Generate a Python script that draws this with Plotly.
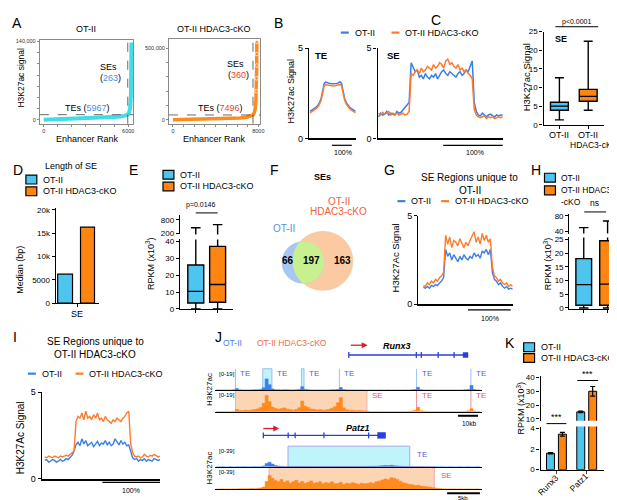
import numpy as np
import plotly.graph_objects as go

W, H = 617, 500
FONT = "Liberation Sans, Arial, Helvetica, sans-serif"

# ======================= DATA =======================
# A: ranked enhancer plots (ROSE)
a_ot2_rank = [0, 600, 1200, 1800, 2400, 3000, 3600, 4200, 4800, 5300, 5700, 5967, 6080, 6150, 6190, 6212, 6224, 6230]
a_ot2_signal = [300, 700, 1100, 1500, 1900, 2400, 2900, 3500, 4300, 5400, 7000, 9200, 14000, 24000, 42000, 70000, 105000, 138000]
a_ot2_cut = (5967, 9200)
a_ot2_counts = {"SE": 263, "TE": 5967}

a_ko_rank = [0, 800, 1600, 2400, 3200, 4000, 4800, 5600, 6300, 6900, 7300, 7496, 7620, 7710, 7770, 7810, 7835, 7848, 7853, 7856]
a_ko_signal = [1000, 2000, 3000, 4000, 5200, 6500, 8000, 10000, 13000, 18000, 25000, 34000, 50000, 80000, 130000, 200000, 290000, 380000, 460000, 545000]
a_ko_cut = (7496, 34000)
a_ko_counts = {"SE": 360, "TE": 7496}

# B: meta-profiles of H3K27ac signal
te_blue = [1.50, 1.55, 1.60, 1.66, 1.74, 1.84, 1.98, 2.20, 2.55, 3.05, 3.12, 3.08, 3.05, 3.04, 3.03,
           3.03, 3.04, 3.05, 3.08, 3.14, 3.05, 2.55, 2.20, 1.98, 1.84, 1.74, 1.66, 1.60, 1.55, 1.50]
te_orange = [1.42, 1.47, 1.52, 1.58, 1.66, 1.76, 1.90, 2.12, 2.46, 2.92, 2.97, 2.95, 2.93, 2.92, 2.91,
             2.91, 2.92, 2.93, 2.95, 2.99, 2.92, 2.46, 2.12, 1.90, 1.76, 1.66, 1.58, 1.52, 1.47, 1.42]
se_blue = [1.2, 1.4, 1.3, 1.35, 1.5, 1.3, 1.4, 1.35, 1.3, 1.5, 1.4, 1.45, 1.6, 1.7, 1.85, 2.0,
           4.2, 3.9, 3.7, 3.8, 3.4, 3.5, 3.3, 3.6, 3.4, 3.3, 3.5, 3.4, 3.6, 3.3, 3.5, 3.7,
           3.8, 3.6, 3.5, 3.7, 3.6, 3.5, 3.4, 3.6, 3.7, 3.5, 3.6, 3.8, 3.7, 4.0, 4.3,
           2.0, 1.5, 1.3, 1.25, 1.4, 1.3, 1.2, 1.3, 1.35, 1.25, 1.2, 1.3, 1.25, 1.3, 1.3]
se_orange = [1.4, 1.3, 1.45, 1.35, 1.4, 1.5, 1.3, 1.4, 1.35, 1.4, 1.3, 1.35, 1.4, 1.3, 1.35, 1.5,
             3.6, 3.5, 3.7, 3.8, 3.6, 3.9, 3.7, 3.8, 4.0, 3.9, 3.8, 4.1, 3.9, 4.0, 4.2, 4.1,
             3.9, 4.3, 4.4, 4.1, 4.2, 4.0, 3.9, 4.1, 3.8, 3.9, 3.7, 3.8, 3.6, 3.5, 3.3,
             1.6, 1.3, 1.2, 1.15, 1.2, 1.25, 1.1, 1.2, 1.15, 1.2, 1.1, 1.15, 1.2, 1.15, 1.2]

# C: SE H3K27ac signal box plot (min, q1, median, q3, max)
c_groups = ["OT-II", "OT-II HDAC3-cKO"]
c_low = [1.3, 3.9]
c_q1 = [3.9, 6.3]
c_med = [5.0, 7.6]
c_q3 = [6.05, 9.5]
c_high = [12.6, 22.4]

# D: median SE length
d_groups = ["OT-II", "OT-II HDAC3-cKO"]
d_median_bp = [6200, 16300]

# E: RPKM (x10^3) of SE-associated genes
e_low = [0, 0]
e_q1 = [3.5, 4.0]
e_med = [10.4, 14.5]
e_q3 = [26.0, 37.0]
e_high = [450, 590]
e_p = "p=0.0146"

# F: Venn counts
f_counts = {"OT-II only": 66, "shared": 197, "cKO only": 163}

# G: SE regions unique to OT-II
g_blue = [0.95, 0.9, 1.0, 0.9, 1.05, 1.0, 1.1, 1.05, 1.2, 1.3, 1.5,
          3.1, 2.7, 2.9, 2.5, 2.8, 2.6, 2.4, 2.7, 2.5, 2.8, 2.6, 2.5, 2.7, 2.6, 2.9, 2.7, 2.8, 2.6, 3.0, 2.9, 3.1, 2.8, 3.1,
          1.8, 1.4, 1.3, 1.1, 1.2, 1.0, 0.9, 1.0, 0.85, 0.9, 0.85]
g_orange = [1.05, 1.0, 1.2, 1.1, 1.3, 1.2, 1.4, 1.3, 1.5, 1.6, 1.8,
            3.9, 3.4, 3.8, 3.2, 3.6, 3.5, 3.3, 3.7, 3.4, 3.2, 3.5, 3.3, 3.6, 3.9, 4.1, 3.5, 3.8, 3.4, 4.0, 3.6, 3.9, 3.5, 3.7,
            2.1, 1.6, 1.5, 1.3, 1.4, 1.2, 1.1, 1.2, 1.0, 1.1, 1.0]

# H: RPKM (x10^3) box plot
h_low = [0, 0]
h_q1 = [1.0, 1.0]
h_med = [8.5, 8.7]
h_q3 = [18.0, 24.5]
h_high = [50, 67]

# I: SE regions unique to OT-II HDAC3-cKO
i_blue = [1.05, 1.1, 0.95, 1.0, 1.1, 1.05, 0.95, 1.0, 1.1, 1.0, 1.05, 1.15, 1.1, 1.2, 1.35, 1.6,
          1.95, 2.1, 1.9, 2.3, 2.0, 2.2, 1.9, 2.0, 2.1, 1.85, 2.0, 2.15, 1.9, 2.05, 2.0, 2.2, 1.95, 2.1,
          1.9, 2.0, 2.3, 2.1, 1.95, 2.2, 2.0, 2.1, 1.9, 1.95,
          1.5, 1.2, 1.1, 1.15, 1.0, 1.1, 1.05, 1.15, 1.0, 1.1, 1.05, 1.0, 1.15, 1.1, 1.05, 1.1]
i_orange = [1.25, 1.2, 1.3, 1.25, 1.2, 1.3, 1.25, 1.2, 1.3, 1.25, 1.3, 1.35, 1.3, 1.4, 1.5, 1.6,
            3.3, 3.6, 3.5, 3.8, 3.4, 3.9, 3.5, 3.6, 3.4, 3.7, 3.5, 3.8, 3.4, 3.5, 3.3, 3.6, 3.4, 3.3,
            3.2, 3.4, 3.3, 3.5, 3.4, 3.3, 3.5, 3.6, 3.8, 3.9,
            2.0, 1.5, 1.3, 1.25, 1.3, 1.2, 1.25, 1.4, 1.3, 1.25, 1.35, 1.3, 1.4, 1.3, 1.25, 1.3]

# J: genome browser tracks (binned H3K27ac coverage)
runx3_ot2 = [0.3, 0.2, 0.3, 0.2, 0.3, 0.3, 0.4, 1.5, 0.4, 0.3,
             0.3, 0.2, 0.3, 0.4, 0.5, 0.8, 2.2, 10.0, 5.0, 1.2,
             0.5, 0.4, 0.3, 0.5, 0.4, 0.3, 0.3, 0.4, 0.6, 3.2,
             0.8, 0.4, 0.3, 0.3, 0.2, 0.3, 0.3, 0.2, 0.3, 0.4,
             0.5, 0.8, 2.4, 0.6, 0.3, 0.2, 0.3, 0.2, 0.2, 0.3,
             0.2, 0.2, 0.3, 0.2, 0.2, 0.3, 0.2, 0.2, 0.3, 0.2,
             0.2, 0.3, 0.2, 0.2, 0.3, 0.2, 0.4, 0.6, 2.6, 0.5,
             0.3, 0.2, 0.2, 0.3, 0.2, 0.2, 0.3, 0.2, 0.2, 0.3,
             0.2, 0.2, 0.3, 0.3, 0.4, 0.7, 4.2, 0.6, 0.3, 0.2]
runx3_ko = [0.3, 0.3, 0.4, 0.3, 0.3, 0.4, 0.5, 2.0, 1.2, 1.0,
            1.4, 1.1, 1.6, 2.0, 2.6, 3.8, 7.5, 14.5, 9.0, 4.2,
            3.0, 2.2, 2.8, 3.5, 2.4, 1.8, 1.5, 2.0, 3.6, 9.5,
            5.0, 3.8, 2.6, 2.2, 1.6, 1.9, 1.4, 1.6, 2.1, 3.2,
            4.5, 8.0, 12.5, 3.5, 1.8, 1.2, 1.4, 1.0, 1.2, 0.9,
            0.8, 0.7, 0.4, 0.3, 0.4, 0.3, 0.4, 0.3, 0.3, 0.4,
            0.3, 0.3, 0.4, 0.3, 0.4, 0.5, 0.8, 1.4, 4.0, 1.0,
            0.5, 0.4, 0.3, 0.4, 0.3, 0.3, 0.4, 0.3, 0.3, 0.4,
            0.3, 0.4, 0.3, 0.4, 0.5, 0.9, 2.8, 0.8, 0.4, 0.3]
patz1_ot2 = [0.2, 0.2, 0.3, 0.2, 0.2, 0.3, 0.2, 0.3, 0.2, 0.3,
             0.3, 0.2, 0.3, 0.4, 0.3, 0.5, 1.5, 6.0, 8.5, 5.0,
             2.5, 1.2, 0.8, 0.6, 0.5, 0.6, 0.5, 0.4, 0.5, 0.6,
             0.5, 0.4, 0.6, 0.5, 0.4, 0.5, 0.6, 0.4, 0.5, 0.4,
             0.6, 0.5, 0.4, 0.5, 0.4, 0.6, 0.5, 0.4, 0.5, 0.6,
             0.5, 0.6, 0.8, 0.7, 0.9, 1.2, 1.8, 2.4, 2.0, 2.6,
             1.8, 1.4, 0.9, 0.6, 0.5, 0.4, 0.3, 0.3, 0.2, 0.3,
             0.2, 0.3, 0.2, 0.2, 0.3, 0.2, 0.3, 0.2, 0.2, 0.3,
             0.2, 0.2, 0.3, 0.2, 0.2, 0.3, 0.2, 0.2, 0.3, 0.2]
patz1_ko = [0.4, 0.4, 0.6, 0.4, 0.6, 0.4, 0.7, 0.6, 0.8, 0.9,
            0.8, 0.9, 1.2, 1.0, 1.5, 2.1, 3.8, 13.5, 24.0, 19.0,
            15.0, 13.0, 17.0, 12.0, 14.5, 10.5, 13.0, 15.5, 11.0, 13.5,
            10.0, 12.0, 14.5, 10.5, 11.5, 13.0, 9.5, 11.5, 10.5, 13.0,
            9.5, 10.0, 12.0, 8.5, 10.5, 9.5, 11.5, 10.0, 8.5, 10.5,
            9.5, 10.0, 11.5, 10.5, 13.0, 14.0, 16.0, 18.0, 16.5, 20.0,
            19.0, 17.0, 14.0, 11.5, 10.0, 8.5, 8.0, 6.5, 7.0, 5.5,
            5.0, 4.2, 3.5, 2.8, 1.8, 1.2, 0.9, 0.7, 0.6, 0.7,
            0.6, 0.4, 0.6, 0.4, 0.4, 0.6, 0.4, 0.4, 0.6, 0.4]
j_runx3_te = [(6.5, 6.5), (15.7, 18.8), (28.7, 29.6), (41.5, 41.5), (67.5, 67.5), (85.8, 85.8)]
j_runx3_se = (6.5, 50.8)
j_runx3_ko_te = [(67.5, 67.5), (85.8, 85.8)]
j_patz1_te = (24.2, 65.2)
j_patz1_se = (17.8, 73.5)

# K: RPKM (x10^3) of Runx3 / Patz1
k_genes = ["Runx3", "Patz1"]
k_ot2 = [1.6, 15.0]
k_ot2_err = [0.06, 0.6]
k_ko = [3.45, 30.0]
k_ko_err = [0.18, 3.5]

# ======================= STYLE =======================
CY_A = "#3fdde6"
OR_A = "#ff8a1e"
BLUE = "#3a7fe8"
ORNG = "#ff7b2c"
CY = "#4dc5ef"
OR = "#ff8513"
NUM_BLUE = "#4a8ee0"
NUM_RED = "#e8452a"
TE_COL = "#5b5be0"
SE_COL = "#e8506a"
GENE = "#2a3fe0"

fig = go.Figure()
layout = dict(width=W, height=H, autosize=False, margin=dict(l=0, r=0, t=0, b=0),
              paper_bgcolor="white", plot_bgcolor="rgba(0,0,0,0)", showlegend=False,
              font=dict(family=FONT, size=9, color="black"))
anns, shps = [], []
cnt = [0]


def rng(v1, p1, v2, p2, pa, pb):
    k = (v2 - v1) / (p2 - p1)
    return [v1 + (pa - p1) * k, v1 + (pb - p1) * k]


def axes(xpx, ypx, xr, yr, xopt=None, yopt=None):
    cnt[0] += 1
    s = "" if cnt[0] == 1 else str(cnt[0])
    base = dict(showgrid=False, zeroline=False, showline=False, ticks="", showticklabels=False, fixedrange=True)
    xd = {**base, "domain": [xpx[0] / W, xpx[1] / W], "range": list(xr), "anchor": "y" + s}
    yd = {**base, "domain": [1 - ypx[1] / H, 1 - ypx[0] / H], "range": list(yr), "anchor": "x" + s}
    if xopt:
        xd.update(xopt)
    if yopt:
        yd.update(yopt)
    layout["xaxis" + s] = xd
    layout["yaxis" + s] = yd
    return "x" + s, "y" + s


def yl(vals, text=None, size=8, lw=1.3, tl=3, color="black"):
    d = dict(showline=True, linecolor=color, linewidth=lw, ticks="outside", ticklen=tl, tickwidth=lw,
             tickcolor=color, showticklabels=True, tickvals=vals, tickfont=dict(size=size, family=FONT, color="black"))
    if text is not None:
        d["ticktext"] = text
    return d


def xl(lw=1.3, vals=None, tl=3):
    d = dict(showline=True, linecolor="black", linewidth=lw)
    if vals is not None:
        d.update(ticks="outside", tickvals=vals, ticklen=tl, tickwidth=lw, tickcolor="black")
    return d


def T(x, y, text, size=9, color="black", xa="center", ya="middle", angle=0, bold=False, italic=False):
    if bold:
        text = "<b>%s</b>" % text
    if italic:
        text = "<i>%s</i>" % text
    anns.append(dict(x=x / W, y=1 - y / H, xref="paper", yref="paper", text=text, showarrow=False,
                     font=dict(size=size, color=color, family=FONT), xanchor=xa, yanchor=ya, textangle=angle))


def L(x0, y0, x1, y1, color="black", width=1.0, dash=None):
    shps.append(dict(type="line", xref="paper", yref="paper", x0=x0 / W, x1=x1 / W, y0=1 - y0 / H, y1=1 - y1 / H,
                     line=dict(color=color, width=width, dash=dash)))


def R(x0, y0, x1, y1, fill, lc="black", lw=1.0):
    shps.append(dict(type="rect", xref="paper", yref="paper", x0=x0 / W, x1=x1 / W, y0=1 - y1 / H, y1=1 - y0 / H,
                     fillcolor=fill, line=dict(color=lc, width=lw)))


def P(points, fill):
    path = "M " + " L ".join("%.5f,%.5f" % (x / W, 1 - y / H) for x, y in points) + " Z"
    shps.append(dict(type="path", xref="paper", yref="paper", path=path, fillcolor=fill, line=dict(width=0)))


def letter(x, y, s):
    T(x, y, s, size=14, xa="left", ya="top")


def sq_legend(x, y, color, text, size=9):
    R(x, y - 4.5, x + 11, y + 4.5, color, "black", 1.2)
    T(x + 15, y, text, size=size, xa="left")


def line_legend(x, y, color, text, size=9):
    L(x, y, x + 8, y, color, 2.2)
    T(x + 12, y, text, size=size, xa="left")


def arrow(x0, x1, y, col="#d4202a"):
    L(x0, y, x1 - 4, y, col, 1.3)
    P([(x1, y), (x1 - 6, y - 3), (x1 - 6, y + 3)], col)


# ======================= PANEL A =======================
letter(2, 0, "A")
gray = "#8a8a8a"
small = dict(size=5.5, family=FONT, color="#333")
xa, ya = axes((32, 126), (28, 113), rng(0, 36, 6000, 121, 32, 126), rng(0, 109, 140000, 29, 113, 28),
              xopt=dict(showline=True, mirror=True, linecolor=gray, linewidth=1, ticks="outside", ticklen=2,
                        tickcolor=gray, tickvals=[0, 6000], ticktext=["0", "6000"], showticklabels=True, tickfont=small,
                        minor=dict(ticks="outside", tick0=0, dtick=1000, ticklen=2, tickcolor=gray)),
              yopt=dict(showline=True, mirror=True, linecolor=gray, linewidth=1, ticks="outside", ticklen=2,
                        tickcolor=gray, tickvals=[0, 140000], ticktext=["0", "140,000"], showticklabels=True,
                        tickfont=small, minor=dict(ticks="outside", tick0=0, dtick=20000, ticklen=2, tickcolor=gray)))
fig.add_trace(go.Scatter(x=a_ot2_rank, y=a_ot2_signal, mode="lines", line=dict(color=CY_A, width=4),
                         xaxis=xa, yaxis=ya, hoverinfo="skip"))
shps.append(dict(type="line", xref=xa + " domain", yref=ya, x0=0, x1=1, y0=a_ot2_cut[1], y1=a_ot2_cut[1],
                 line=dict(color="#444", width=0.8, dash="dash")))
shps.append(dict(type="line", xref=xa, yref=ya + " domain", x0=a_ot2_cut[0], x1=a_ot2_cut[0], y0=0, y1=1,
                 line=dict(color="#444", width=0.8, dash="dash")))
T(79, 16, "OT-II", 9)
T(101, 55, "SEs", 9)
T(103, 66, "(<span style='color:%s'>%d</span>)" % (NUM_BLUE, a_ot2_counts["SE"]), 9)
T(80, 97, "TEs (<span style='color:%s'>%d</span>)" % (NUM_BLUE, a_ot2_counts["TE"]), 9)
T(13, 66, "H3K27ac signal", 8.5, angle=-90)
T(80, 129, "Enhancer Rank", 9)

xa, ya = axes((162, 254), (27, 113), rng(0, 166, 8000, 252, 162, 254), rng(0, 109, 500000, 36, 113, 27),
              xopt=dict(showline=True, mirror=True, linecolor=gray, linewidth=1, ticks="outside", ticklen=2,
                        tickcolor=gray, tickvals=[0, 8000], ticktext=["0", "8000"], showticklabels=True, tickfont=small,
                        minor=dict(ticks="outside", tick0=0, dtick=1000, ticklen=2, tickcolor=gray)),
              yopt=dict(showline=True, mirror=True, linecolor=gray, linewidth=1, ticks="outside", ticklen=2,
                        tickcolor=gray, tickvals=[0, 500000], ticktext=["0", "500,000"], showticklabels=True,
                        tickfont=small, minor=dict(ticks="outside", tick0=0, dtick=100000, ticklen=2, tickcolor=gray)))
fig.add_trace(go.Scatter(x=a_ko_rank, y=a_ko_signal, mode="lines+markers", line=dict(color=OR_A, width=3.5),
                         marker=dict(size=[0 if v < 150000 else 3.5 for v in a_ko_signal], color=OR_A),
                         xaxis=xa, yaxis=ya, hoverinfo="skip"))
shps.append(dict(type="line", xref=xa + " domain", yref=ya, x0=0, x1=1, y0=a_ko_cut[1], y1=a_ko_cut[1],
                 line=dict(color="#444", width=0.8, dash="dash")))
shps.append(dict(type="line", xref=xa, yref=ya + " domain", x0=a_ko_cut[0], x1=a_ko_cut[0], y0=0, y1=1,
                 line=dict(color="#444", width=0.8, dash="dash")))
T(207, 16, "OT-II HDAC3-cKO", 9)
T(229, 52, "SEs", 9)
T(232, 63, "(<span style='color:%s'>%d</span>)" % (NUM_RED, a_ko_counts["SE"]), 9)
T(214, 97, "TEs (<span style='color:%s'>%d</span>)" % (NUM_RED, a_ko_counts["TE"]), 9)
T(208, 129, "Enhancer Rank", 9)

# ======================= PANEL B =======================
letter(266, 0, "B")
line_legend(335, 20, BLUE, "OT-II")
line_legend(386, 20, ORNG, "OT-II HDAC3-cKO")
n = len(te_blue)
xa, ya = axes((303, 350), (36, 128), rng(0, 304, n - 1, 350, 303, 350), [0, 5],
              xopt=xl(1.6), yopt=yl([0, 5], size=9))
for arr, col in ((te_blue, BLUE), (te_orange, ORNG)):
    fig.add_trace(go.Scatter(x=list(range(n)), y=arr, mode="lines", line=dict(color=col, width=1.5),
                             xaxis=xa, yaxis=ya, hoverinfo="skip"))
T(315, 43, "TE", 9.5, bold=True)
L(326, 135, 346, 135, "black", 1.2)
T(337, 142, "100%", 7)
T(285, 80, "H3K27ac Signal", 9, angle=-90)
n = len(se_blue)
xa, ya = axes((372, 498), (36, 128), rng(0, 373, n - 1, 498, 372, 498), [0, 5],
              xopt=xl(1.6), yopt=yl([0, 5], size=9))
for arr, col in ((se_blue, BLUE), (se_orange, ORNG)):
    fig.add_trace(go.Scatter(x=list(range(n)), y=arr, mode="lines", line=dict(color=col, width=1.5),
                             xaxis=xa, yaxis=ya, hoverinfo="skip"))
T(388, 43, "SE", 9.5, bold=True)
L(438, 135, 498, 135, "black", 1.2)
T(470, 142, "100%", 7)

# ======================= PANEL C =======================
letter(424, -3, "C")
xa, ya = axes((539, 600), (19, 114), rng(0, 555, 1, 584, 539, 600), [0, 25],
              xopt=xl(1.3, [0, 1]), yopt=yl([0, 5, 10, 15, 20, 25], size=8))
for i, col in enumerate((CY, OR)):
    fig.add_trace(go.Box(x=[i], q1=[c_q1[i]], median=[c_med[i]], q3=[c_q3[i]], lowerfence=[c_low[i]],
                         upperfence=[c_high[i]], width=0.62, fillcolor=col, line=dict(color="black", width=1.4),
                         whiskerwidth=0.5, boxpoints=False, orientation="v", xaxis=xa, yaxis=ya, hoverinfo="skip"))
T(522, 66, "H3K27ac Signal", 9.5, angle=-90)
T(557, 27, "SE", 9, bold=True)
L(551, 14, 594, 14, "black", 1)
T(572, 9, "p<0.0001", 7)
T(555, 124, "OT-II", 9)
T(584, 124, "OT-II", 9)
T(590, 135, "HDAC3-cKO", 8.5)

# ======================= PANEL D =======================
letter(3, 150, "D")
T(35, 156, "Length of SE", 9, xa="left")
sq_legend(18, 170, CY, d_groups[0])
sq_legend(18, 182, OR, d_groups[1])
xa, ya = axes((48, 92), (199, 296), [-0.5, 0.5], rng(0, 296, 20000, 201, 296, 199),
              xopt=xl(1.3, ["SE"]), yopt=yl([0, 5000, 10000, 15000, 20000], size=8))
fig.add_trace(go.Bar(x=["SE"], y=[d_median_bp[0]], width=[0.34], offset=[-0.455], marker=dict(color=CY, line=dict(color="black", width=1.2)),
                     xaxis=xa, yaxis=ya, hoverinfo="skip"))
fig.add_trace(go.Bar(x=["SE"], y=[d_median_bp[1]], width=[0.32], offset=[0.068], marker=dict(color=OR, line=dict(color="black", width=1.2)),
                     xaxis=xa, yaxis=ya, hoverinfo="skip"))
T(69, 307, "SE", 9)
T(12, 262, "Median (bp)", 9, angle=-90)

# ======================= PANEL E =======================
letter(120, 150, "E")
sq_legend(156, 165, CY, "OT-II")
sq_legend(156, 177, OR, "OT-II HDAC3-cKO")
xr_e = rng(0, 189, 1, 211, 173, 226)
xa, ya = axes((173, 226), (231, 302), xr_e, rng(0, 302, 40, 233, 302, 231),
              xopt=xl(1.3, [0, 1]), yopt=yl([0, 10, 20, 30, 40], size=8))
xa2, ya2 = axes((173, 226), (206, 226), xr_e, rng(200, 225, 800, 211, 226, 206),
                yopt=yl([200, 800], size=8))
for ax_, ay_ in ((xa, ya), (xa2, ya2)):
    for i, col in enumerate((CY, OR)):
        fig.add_trace(go.Box(x=[i], q1=[e_q1[i]], median=[e_med[i]], q3=[e_q3[i]], lowerfence=[e_low[i]],
                             upperfence=[e_high[i]], width=0.73, fillcolor=col, line=dict(color="black", width=1.4),
                             whiskerwidth=0.6, boxpoints=False, orientation="v", xaxis=ax_, yaxis=ay_, hoverinfo="skip"))
L(189, 204, 211, 204, "black", 1)
T(194, 196, e_p, 7)
T(143, 256, "RPKM (x10<sup>3</sup>)", 9, angle=-90)

# ======================= PANEL F =======================
letter(262, 150, "F")
T(317, 167, "SEs", 9, bold=True)
T(333, 192, "OT-II", 10, color="#f0603a")
T(333, 203, "HDAC3-cKO", 10, color="#f0603a")
T(278, 220, "OT-II", 10, color="#5a90e0")
c1 = (297.0, 254.5, 21.5)
c2 = (317.0, 253.0, 30.5)


def circ(c, fill):
    cx, cy, r = c
    shps.append(dict(type="circle", xref="paper", yref="paper", x0=(cx - r) / W, x1=(cx + r) / W,
                     y0=1 - (cy + r) / H, y1=1 - (cy - r) / H, fillcolor=fill, line=dict(width=0)))


circ(c2, "#fbc9a2")
circ(c1, "#a9c6f3")
t = np.linspace(0, 2 * np.pi, 400)
p1 = np.c_[c1[0] + c1[2] * np.cos(t), c1[1] + c1[2] * np.sin(t)]
p2 = np.c_[c2[0] + c2[2] * np.cos(t), c2[1] + c2[2] * np.sin(t)]
in1 = p1[np.hypot(p1[:, 0] - c2[0], p1[:, 1] - c2[1]) <= c2[2]]
in2 = p2[np.hypot(p2[:, 0] - c1[0], p2[:, 1] - c1[1]) <= c1[2]]
pts = np.vstack([in1, in2])
cen = pts.mean(axis=0)
pts = pts[np.argsort(np.arctan2(pts[:, 1] - cen[1], pts[:, 0] - cen[0]))]
P(pts, "#c9f08e")
T(282, 253, str(f_counts["OT-II only"]), 10, bold=True)
T(305, 253, str(f_counts["shared"]), 10, bold=True)
T(337, 253, str(f_counts["cKO only"]), 10, bold=True)

# ======================= PANEL G =======================
letter(376, 150, "G")
T(465, 168, "SE Regions unique to", 10)
T(465, 181, "OT-II", 10)
line_legend(392, 192, BLUE, "OT-II")
line_legend(436, 192, ORNG, "OT-II HDAC3-cKO")
n = len(g_blue)
xa, ya = axes((413, 508), (207, 297), rng(0, 418, n - 1, 508, 413, 508), [0, 5],
              xopt=xl(1.6), yopt=yl([0, 5], size=9))
for arr, col in ((g_blue, BLUE), (g_orange, ORNG)):
    fig.add_trace(go.Scatter(x=list(range(n)), y=arr, mode="lines", line=dict(color=col, width=1.4),
                             xaxis=xa, yaxis=ya, hoverinfo="skip"))
L(463, 303, 506, 303, "black", 1.2)
T(485, 312, "100%", 7)
T(390, 250, "H3K27Ac Signal", 9.5, angle=-90)

# ======================= PANEL H =======================
letter(524, 150, "H")
sq_legend(540, 168, CY, "OT-II", 8.5)
sq_legend(540, 181, OR, "OT-II HDAC3", 8.5)
T(555, 193, "-cKO", 8.5, xa="left")
xr_h = rng(0, 579.5, 1, 603.5, 565, 614)
xa, ya = axes((565, 614), (229, 302), xr_h, rng(0, 301, 25, 231, 302, 229),
              xopt=xl(1.3, [0, 1]), yopt=yl([0, 5, 10, 15, 20, 25], size=8))
xa2, ya2 = axes((565, 614), (205, 225), xr_h, rng(40, 223, 80, 207, 225, 205),
                yopt=yl([40, 80], size=8))
for ax_, ay_ in ((xa, ya), (xa2, ya2)):
    for i, col in enumerate((CY, OR)):
        fig.add_trace(go.Box(x=[i], q1=[h_q1[i]], median=[h_med[i]], q3=[h_q3[i]], lowerfence=[h_low[i]],
                             upperfence=[h_high[i]], width=0.66, fillcolor=col, line=dict(color="black", width=1.4),
                             whiskerwidth=0.6, boxpoints=False, orientation="v", xaxis=ax_, yaxis=ay_, hoverinfo="skip"))
L(580, 203, 602, 203, "black", 1)
T(590, 194, "ns", 8.5)
T(543, 256, "RPKM (x10<sup>3</sup>)", 9, angle=-90)

# ======================= PANEL I =======================
letter(3, 320, "I")
T(88, 335, "SE Regions unique to", 10)
T(88, 348, "OT-II HDAC3-cKO", 10)
line_legend(20, 368, BLUE, "OT-II")
line_legend(68, 368, ORNG, "OT-II HDAC3-cKO")
n = len(i_blue)
xa, ya = axes((34, 153), (387, 475), rng(0, 37, n - 1, 153, 34, 153), [0, 5],
              xopt=xl(1.6), yopt=yl([0, 5], size=9))
for arr, col in ((i_blue, BLUE), (i_orange, ORNG)):
    fig.add_trace(go.Scatter(x=list(range(n)), y=arr, mode="lines", line=dict(color=col, width=1.4),
                             xaxis=xa, yaxis=ya, hoverinfo="skip"))
L(95, 479, 153, 479, "black", 1.2)
T(124, 487, "100%", 7)
T(12, 433, "H3K27Ac Signal", 10, angle=-90)

# ======================= PANEL J =======================
letter(206, 320, "J")
T(226, 337, "OT-II", 8.5, color="#4a84e6")
T(286, 337, "OT-II HDAC3-cKO", 8.5, color="#f06a48")


def track(ypx, ymax, vals, col, label):
    nb = len(vals)
    xa_, ya_ = axes((208, 477), ypx, [-0.5, nb - 0.5], [0, ymax], xopt=xl(1.2))
    fig.add_trace(go.Scatter(x=list(range(nb)), y=vals, mode="lines", line=dict(color=col, width=0.6, shape="hvh"),
                             fill="tozeroy", fillcolor=col, xaxis=xa_, yaxis=ya_, hoverinfo="skip"))
    T(210, ypx[0] + 5, label, 6, xa="left")
    return xa_, ya_


def region(xa_, ya_, r, fill, lc, lw=0.8):
    if r[1] - r[0] < 0.01:
        shps.append(dict(type="line", xref=xa_, yref=ya_ + " domain", x0=r[0], x1=r[0], y0=0, y1=1,
                         line=dict(color=lc, width=lw), layer="below"))
    else:
        shps.append(dict(type="rect", xref=xa_, yref=ya_ + " domain", x0=r[0], x1=r[1], y0=0, y1=1,
                         fillcolor=fill, line=dict(color=lc, width=lw), layer="below"))


def rlabel(xa_, ya_, xpos, text, col, yv=0.78, shift=3):
    anns.append(dict(x=xpos, y=yv, xref=xa_, yref=ya_ + " domain", text=text, showarrow=False, xshift=shift,
                     xanchor="left", yanchor="middle", font=dict(size=8, color=col, family=FONT)))


# Runx3 gene model
arrow(345, 362, 339)
T(392, 340, "Runx3", 9, bold=True, italic=True)
L(343, 349, 463, 349, GENE, 1.3)
for ex in (343, 411, 416, 433, 449):
    L(ex, 346, ex, 352, GENE, 1.3)
R(458, 346.5, 463, 351.5, GENE, GENE, 0.5)
xa, ya = track((363, 385), 19, runx3_ot2, "#3a80e8", "[0-19]")
for r in j_runx3_te:
    region(xa, ya, r, "#bff2fb", "#7fb4f0")
    rlabel(xa, ya, r[1], "TE", TE_COL)
xa, ya = track((385, 407), 19, runx3_ko, "#ff8a1e", "[0-19]")
region(xa, ya, j_runx3_se, "#fcd5b4", "#f0a0a8")
rlabel(xa, ya, j_runx3_se[1], "SE", SE_COL)
for r in j_runx3_ko_te:
    region(xa, ya, r, None, "#f07080")
    rlabel(xa, ya, r[1], "TE", SE_COL)
L(453, 411, 473, 411, "black", 2)
T(464, 419, "10kb", 6.5)
T(203, 384, "H3K27ac", 8, angle=-90)

# Patz1 gene model
arrow(257, 273, 424)
T(352, 423, "Patz1", 9, bold=True, italic=True)
L(257, 431, 380, 431, GENE, 1.3)
for ex in (257, 282, 289, 318, 363):
    L(ex, 428, ex, 434, GENE, 1.3)
R(372, 428, 380, 434, GENE, GENE, 0.5)
xa, ya = track((442, 463), 39, patz1_ot2, "#3a80e8", "[0-39]")
region(xa, ya, j_patz1_te, "#bff5fa", "#a8a8f0", 1)
rlabel(xa, ya, j_patz1_te[1], "TE", TE_COL, yv=0.6, shift=5)
xa, ya = track((463, 486), 39, patz1_ko, "#ff8a1e", "[0-39]")
region(xa, ya, j_patz1_se, "#fcd5b4", "#f0a0a8")
rlabel(xa, ya, j_patz1_se[1], "SE", SE_COL, yv=0.6, shift=5)
L(442, 490, 475, 490, "black", 2)
T(458, 495, "5kb", 6)
T(203, 464, "H3K27ac", 8, angle=-90)

# ======================= PANEL K =======================
letter(498, 327, "K")
sq_legend(519, 341, CY, "OT-II")
sq_legend(519, 352, OR, "OT-II HDAC3-cKO")
xr_k = rng(-0.525, 536, 1.574, 600, 536, 600)
xa, ya = axes((536, 600), (422, 466), xr_k, rng(0, 466, 4, 424, 466, 422),
              xopt=dict(**xl(1.3, None), type="category", showticklabels=False,
                        ticks="outside", ticklen=3, tickwidth=1.2),
              yopt=yl([0, 2, 4], size=8))
xa2, ya2 = axes((536, 600), (370, 416), xr_k, rng(10, 414, 40, 372, 416, 370),
                xopt=dict(type="category"), yopt=yl([10, 20, 30, 40], size=8))
for ax_, ay_ in ((xa, ya), (xa2, ya2)):
    fig.add_trace(go.Bar(x=k_genes, y=k_ot2, width=0.262, offset=-0.328,
                         marker=dict(color=CY, line=dict(color="black", width=1)),
                         error_y=dict(type="data", array=k_ot2_err, color="black", thickness=1.2, width=2.5),
                         xaxis=ax_, yaxis=ay_, hoverinfo="skip"))
    fig.add_trace(go.Bar(x=k_genes, y=k_ko, width=0.262, offset=0.066,
                         marker=dict(color=OR, line=dict(color="black", width=1)),
                         error_y=dict(type="data", array=k_ko_err, color="black", thickness=1.2, width=2.5),
                         xaxis=ax_, yaxis=ay_, hoverinfo="skip"))
T(544, 482, k_genes[0], 8.5, angle=-45)
T(575, 479, k_genes[1], 8.5, angle=-45)
L(542, 419, 562, 419, "black", 1)
T(552, 412, "***", 9)
L(573, 375, 594, 375, "black", 1)
T(583, 368, "***", 9)
T(516, 403, "RPKM (x10<sup>3</sup>)", 9, angle=-90)

layout["annotations"] = anns
layout["shapes"] = shps
layout["barmode"] = "overlay"
fig.update_layout(**layout)
fig.write_html("out.html")
